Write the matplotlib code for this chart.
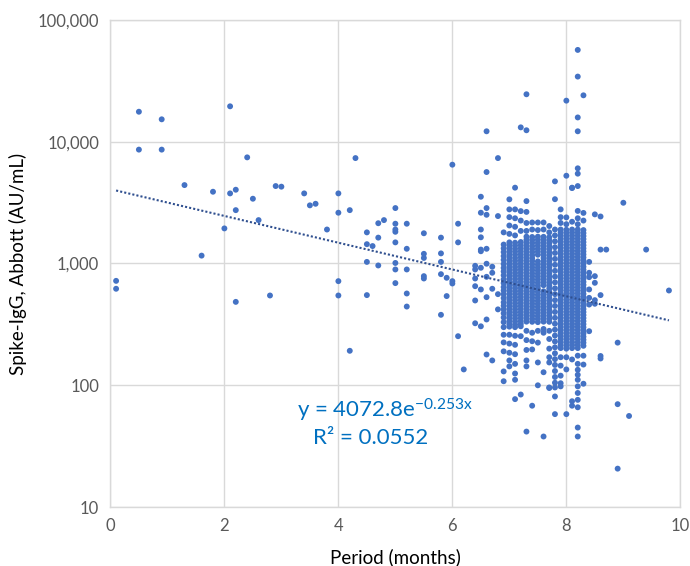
#!/usr/bin/env python3
# Scatter of Spike-IgG (Abbott) vs period since vaccination, log scale,
# with Excel-style exponential trendline.

import numpy as np
import matplotlib
matplotlib.use("Agg")
import matplotlib.pyplot as plt
from matplotlib.ticker import FuncFormatter, FixedLocator

plt.rcParams["font.family"] = ["Lato", "DejaVu Sans"]
plt.rcParams["mathtext.fontset"] = "custom"
plt.rcParams["mathtext.rm"] = "Lato"
plt.rcParams["mathtext.it"] = "Lato"

# scattered points outside the dense block (months, AU/mL)
sparse_x = [0.1, 0.1, 0.5, 0.5, 0.9, 0.9, 1.3, 1.6, 1.8, 2.0, 2.1, 2.1, 2.2, 2.2, 2.2,
            2.4, 2.5, 2.6, 2.8, 2.9, 3.0, 3.4, 3.5, 3.6, 3.8, 4.0, 4.0, 4.0, 4.0,
            4.2, 4.2, 4.3, 4.5, 4.5, 4.5, 4.5, 4.6, 4.7, 4.7, 4.7, 4.8,
            5.0, 5.0, 5.0, 5.0, 5.0, 5.0, 5.0, 5.0, 5.2, 5.2, 5.2, 5.2, 5.2,
            5.5, 5.5, 5.5, 5.5, 5.5, 5.8, 5.8, 5.8, 5.8, 5.8, 5.9, 5.9,
            6.0, 6.0, 6.0, 6.1, 6.1, 6.1, 6.2,
            6.4, 6.4, 6.4, 6.4, 6.4, 6.4,
            6.5, 6.5, 6.5, 6.5, 6.5, 6.5, 6.5, 6.5, 6.5,
            6.6, 6.6, 6.6, 6.6, 6.6, 6.6, 6.6, 6.6, 6.6, 6.6,
            6.7, 6.7, 6.7, 6.7, 6.8, 6.8, 6.8, 6.8,
            8.4, 8.4, 8.4, 8.4, 8.4, 8.4, 8.4, 8.5, 8.5, 8.5, 8.5, 8.5,
            8.6, 8.6, 8.6, 8.6, 8.6, 8.7, 8.9, 8.9, 8.9, 9.0, 9.1, 9.4, 9.8]
sparse_y = [720, 620, 17600, 8600, 15250, 8600, 4400, 1160, 3880, 1940, 19500, 3760, 4030, 2740, 484,
            7430, 3400, 2270, 546, 4320, 4270, 3760, 3000, 3090, 1900, 3760, 2610, 716, 546,
            2740, 192, 7330, 1800, 1440, 1030, 550, 1390, 2140, 1630, 963, 2270,
            2850, 2120, 1900, 1820, 1490, 1010, 893, 690, 2120, 1320, 893, 567, 443,
            1770, 1200, 1110, 787, 753, 1630, 1210, 1030, 817, 379, 763, 540,
            6470, 716, 685, 2120, 1490, 253, 135,
            957, 893, 753, 651, 497, 323,
            3530, 2610, 1900, 1640, 1300, 1260, 922, 612, 305,
            12160, 5630, 2850, 2510, 1320, 995, 777, 529, 347, 179,
            940, 839, 620, 160, 7330, 2450, 560, 420,
            1030, 839, 772, 612, 522, 278, 460, 787, 694, 500, 467, 2530,
            2430, 550, 174, 166, 1300, 1300, 224, 70, 20.7, 3150, 56, 1300, 600]

# dense block: one column of readings per x position
cluster_x = [6.9, 7.0, 7.1, 7.2, 7.3, 7.4, 7.5, 7.6, 7.7, 7.8, 7.9, 8.0, 8.1, 8.2, 8.3]
cluster_y = [
    # 6.9
    [1800, 1430, 1330, 1240, 1150, 1070, 990, 920, 860, 800, 740, 690, 640, 600, 560, 520,
     480, 450, 420, 390, 360, 330, 300, 260, 225, 190, 130, 108],
    # 7.0
    [3360, 2780, 2400, 2050, 1750, 1490, 1405, 1330, 1255, 1185, 1120, 1055, 998, 942, 890,
     840, 793, 749, 707, 668, 631, 596, 563, 531, 502, 474, 447, 422, 399, 377, 356, 336,
     317, 303, 260, 220, 185, 160, 143],
    # 7.1
    [4190, 2780, 2350, 2000, 1700, 1480, 1400, 1320, 1250, 1180, 1110, 1050, 990, 935, 885,
     835, 790, 745, 703, 664, 627, 592, 560, 528, 499, 471, 445, 420, 397, 375, 354, 334,
     315, 300, 255, 215, 180, 150, 125, 111, 77],
    # 7.2
    [13100, 2690, 2250, 1850, 1500, 1415, 1335, 1260, 1190, 1125, 1060, 1000, 945, 893, 843,
     796, 752, 710, 670, 633, 598, 565, 533, 504, 476, 450, 425, 401, 379, 358, 338, 320,
     305, 253, 84],
    # 7.3
    [24480, 12400, 3250, 2650, 2150, 1850, 1660, 1565, 1480, 1395, 1320, 1245, 1175, 1110,
     1050, 990, 935, 883, 834, 788, 744, 702, 663, 626, 591, 558, 527, 498, 470, 444, 419,
     396, 374, 353, 333, 280, 235, 195, 160, 143, 41.7],
    # 7.4
    [2170, 1900, 1650, 1560, 1475, 1390, 1315, 1240, 1170, 1105, 1045, 985, 930, 880, 830,
     785, 740, 700, 660, 623, 588, 556, 525, 495, 468, 442, 417, 394, 372, 351, 332, 270,
     230, 197, 68],
    # 7.5
    [2170, 1880, 1660, 1570, 1480, 1400, 1320, 1250, 1180, 1040, 980, 925, 875, 826, 780,
     737, 696, 657, 620, 586, 553, 522, 493, 466, 440, 415, 392, 370, 350, 330, 280, 224,
     154, 100],
    # 7.6
    [2170, 1900, 1655, 1565, 1480, 1395, 1320, 1245, 1175, 1110, 1050, 990, 935, 883, 834,
     788, 744, 702, 663, 591, 558, 527, 498, 470, 444, 419, 396, 374, 353, 333, 290, 270,
     128, 38],
    # 7.7
    [2030, 1800, 1640, 1550, 1465, 1385, 1310, 1235, 1165, 1100, 1040, 982, 928, 876, 828,
     782, 738, 697, 658, 622, 587, 555, 524, 495, 467, 441, 417, 394, 372, 351, 332, 280,
     240, 200, 170, 154, 96, 95],
    # 7.8
    [4720, 3370, 1900, 1700, 1520, 1360, 1220, 1090, 975, 870, 780, 700, 625, 560, 500,
     448, 400, 358, 320, 286, 256, 229, 205, 183, 164, 147, 131, 117, 105, 96, 81, 58],
    # 7.9
    [2780, 2400, 2150, 1900, 1795, 1695, 1600, 1510, 1425, 1345, 1270, 1200, 1133, 1070,
     1010, 953, 900, 850, 802, 757, 715, 675, 637, 602, 568, 536, 506, 478, 451, 426, 402,
     380, 358, 338, 319, 302, 285, 269, 254, 240, 226, 214, 202, 170, 145, 120, 104, 98],
    # 8.0
    [21700, 5250, 2390, 2100, 1890, 1785, 1685, 1592, 1503, 1420, 1340, 1265, 1195, 1128,
     1065, 1005, 950, 896, 846, 799, 754, 712, 672, 635, 600, 566, 534, 504, 476, 449, 424,
     400, 378, 357, 337, 318, 300, 283, 267, 252, 238, 225, 212, 200, 170, 135, 58],
    # 8.1
    [4190, 4160, 2200, 1900, 1795, 1695, 1600, 1510, 1425, 1345, 1270, 1200, 1133, 1070,
     1010, 953, 900, 850, 802, 757, 715, 675, 637, 602, 568, 536, 506, 478, 451, 426, 402,
     380, 358, 338, 319, 302, 285, 269, 254, 240, 226, 214, 202, 163, 74, 68],
    # 8.2
    [56600, 34200, 15800, 12160, 6040, 5460, 4320, 2700, 2350, 2100, 1900, 1795, 1695, 1600,
     1510, 1425, 1345, 1270, 1200, 1133, 1070, 1010, 953, 900, 850, 802, 757, 715, 675, 637,
     602, 568, 536, 506, 478, 451, 426, 402, 380, 358, 338, 319, 302, 285, 269, 254, 240,
     226, 214, 202, 175, 150, 134, 122, 111, 98, 86.5, 76, 66, 45, 38],
    # 8.3
    [24000, 2600, 2250, 1880, 1775, 1680, 1585, 1495, 1410, 1330, 1255, 1185, 1120, 1057,
     998, 942, 890, 840, 793, 749, 707, 668, 631, 596, 563, 531, 502, 474, 447, 422, 399,
     377, 356, 336, 317, 299, 282, 266, 251, 237, 224, 211, 175, 148, 103],
]

# trendline from the chart's label: y = 4072.8 e^(-0.253x)
fit_a = 4072.8
fit_b = -0.253
fit_range = [0.1, 9.8]

x_all = list(sparse_x)
y_all = list(sparse_y)
for cx, col in zip(cluster_x, cluster_y):
    x_all += [cx] * len(col)
    y_all += col

fig = plt.figure(figsize=(6.9, 5.66), dpi=100)
ax = fig.add_axes([0.160, 0.104, 0.826, 0.861])

ax.scatter(x_all, y_all, s=18, color="#4472C4", edgecolors="none", zorder=3)

tx = np.linspace(fit_range[0], fit_range[1], 200)
ax.plot(tx, fit_a * np.exp(fit_b * tx), color="#2F4F8F", linestyle=(0, (1, 1)),
        linewidth=1.5, zorder=4)

ax.set_yscale("log")
ax.set_xlim(0, 10)
ax.set_ylim(10, 100000)
ax.set_xticks([0, 2, 4, 6, 8, 10])
ax.yaxis.set_major_locator(FixedLocator([10, 100, 1000, 10000, 100000]))
ax.yaxis.set_minor_locator(FixedLocator([]))
ax.yaxis.set_major_formatter(FuncFormatter(lambda v, p: f"{int(round(v)):,}"))

ax.grid(True, color="#D9D9D9", linewidth=1)
ax.set_axisbelow(True)
for sp in ax.spines.values():
    sp.set_color("#D9D9D9")
    sp.set_linewidth(1)
ax.tick_params(length=0, labelsize=12, labelcolor="#595959", pad=8)

ax.set_xlabel("Period (months)", fontsize=13.5, color="black", labelpad=10)
ax.set_ylabel("Spike-IgG, Abbott (AU/mL)", fontsize=13.5, color="black", labelpad=8)

ax.text(0.482, 0.199, r"y = 4072.8e$^{\mathregular{-0.253x}}$", transform=ax.transAxes,
        ha="center", va="center", fontsize=16, color="#0070C0")
ax.text(0.457, 0.142, "R² = 0.0552", transform=ax.transAxes,
        ha="center", va="center", fontsize=16, color="#0070C0")

fig.savefig("out.png", dpi=100)
